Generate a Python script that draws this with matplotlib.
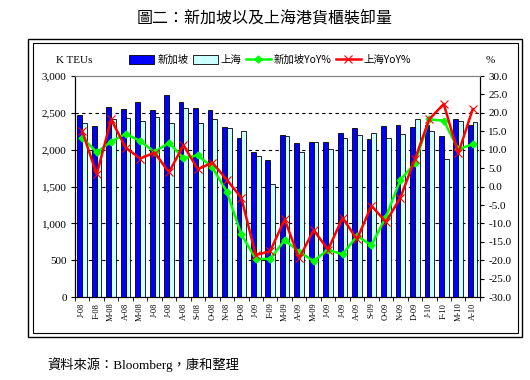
import numpy as np
import matplotlib
matplotlib.use('Agg')
import matplotlib.pyplot as plt
from matplotlib.patches import Rectangle
from matplotlib.lines import Line2D

plt.rcParams['font.family'] = ['Liberation Serif', 'Noto Sans CJK TC']

months = ['J-08', 'F-08', 'M-08', 'A-08', 'M-08', 'J-08', 'J-08', 'A-08', 'S-08', 'O-08', 'N-08', 'D-08',
          'J-09', 'F-09', 'M-09', 'A-09', 'M-09', 'J-09', 'J-09', 'A-09', 'S-09', 'O-09', 'N-09', 'D-09',
          'J-10', 'F-10', 'M-10', 'A-10']

# K TEUs
singapore = [2470, 2320, 2580, 2550, 2645, 2535, 2740, 2650, 2560, 2535, 2305, 2165,
             1975, 1855, 2195, 2085, 2100, 2100, 2225, 2290, 2150, 2315, 2335, 2305,
             2330, 2185, 2420, 2330]
shanghai = [2360, 2005, 2410, 2425, 2385, 2440, 2360, 2560, 2360, 2410, 2290, 2250,
            1910, 1530, 2180, 1970, 2100, 2015, 2155, 2195, 2230, 2165, 2215, 2410,
            2250, 1880, 2390, 2370]

# YoY %
singapore_yoy = [13.3, 9.3, 12.2, 14.3, 12.4, 9.4, 11.9, 7.7, 8.5, 5.2, -1.4, -13.0,
                 -19.6, -19.6, -14.5, -17.7, -20.2, -17.1, -18.4, -13.4, -15.9, -8.2, 1.8, 6.3,
                 18.2, 17.9, 10.1, 11.5]
shanghai_yoy = [15.1, 3.3, 18.2, 10.6, 7.6, 9.2, 3.9, 11.2, 4.7, 6.5, 1.8, -3.0,
                -18.6, -17.5, -8.9, -19.5, -11.8, -17.1, -8.5, -14.3, -5.2, -9.6, -3.0, 7.4,
                18.3, 22.4, 9.0, 21.0]

fig = plt.figure(figsize=(5.3, 3.8), dpi=100)
ax = fig.add_axes([0.1415, 0.218, 0.764, 0.582])
ax2 = ax.twinx()

x = np.arange(len(months))
w = 0.33
ax.bar(x - w / 2, singapore, w, color='#0000ff', edgecolor='black', linewidth=0.6, label='新加坡', zorder=2)
ax.bar(x + w / 2, shanghai, w, color='#ccffff', edgecolor='black', linewidth=0.6, label='上海', zorder=2)

ax2.plot(x, singapore_yoy, color='#00ff00', lw=1.8, marker='D', ms=3.5, label='新加坡YoY%')
ax2.plot(x, shanghai_yoy, color='#ff0000', lw=1.8, marker='x', ms=6, mew=0.8, label='上海YoY%')

ax.set_xlim(-0.5, len(months) - 0.5)
ax.set_ylim(0, 3000)
ax.set_yticks(np.arange(0, 3001, 500))
ax.set_yticklabels(['{:,}'.format(v) for v in range(0, 3001, 500)])
ax2.set_ylim(-30, 30)
ax2.set_yticks(np.arange(-30, 31, 5))
ax2.set_yticklabels(['{:.1f}'.format(v) for v in range(-30, 31, 5)])

for v in range(500, 3000, 500):
    ax.axhline(v, color='black', lw=0.8, ls=(0, (3, 3)), zorder=1)

ax.set_xticks(x)
ax.set_xticklabels(months, rotation=90, fontsize=6)
ax.set_xticks(np.arange(-0.5, len(months), 1), minor=True)
ax.tick_params(axis='x', which='major', length=0, pad=4)
ax.tick_params(axis='x', which='minor', length=3, direction='out')
ax.tick_params(axis='y', labelsize=8, length=3, direction='out', pad=3)
ax2.tick_params(axis='y', labelsize=8, length=3, direction='out', pad=3)

for a in (ax, ax2):
    a.spines['top'].set_color('#808080')
    a.spines['top'].set_linewidth(0.8)

fig.text(0.5, 0.952, '圖二：新加坡以及上海港貨櫃裝卸量', ha='center', va='center', fontsize=11.5,
         family=['Noto Sans CJK TC'])
fig.text(0.105, 0.842, 'K TEUs', fontsize=8, va='center')
fig.text(0.925, 0.842, '%', fontsize=8, va='center', ha='center')
fig.text(0.09, 0.04, '資料來源：Bloomberg，康和整理', fontsize=9.5, va='center',
         family=['Liberation Serif', 'Noto Sans CJK TC'])

handles = [Rectangle((0, 0), 1, 1, fc='#0000ff', ec='black', lw=0.6),
           Rectangle((0, 0), 1, 1, fc='#ccffff', ec='black', lw=0.6),
           Line2D([], [], color='#00ff00', lw=1.8, marker='D', ms=3.5),
           Line2D([], [], color='#ff0000', lw=1.8, marker='x', ms=6, mew=0.8)]
labels = ['新加坡', '上海', '新加坡YoY%', '上海YoY%']
fig.legend(handles, labels, loc='center', bbox_to_anchor=(0.51, 0.842), ncol=4, frameon=False,
           handlelength=2.4, handleheight=0.9, columnspacing=0.4, handletextpad=0.3,
           prop={'family': ['Noto Sans CJK TC'], 'size': 7.5})

# outer chart frame (double line)
fig.patches.append(Rectangle((0.053, 0.113), 0.932, 0.784, transform=fig.transFigure,
                             fill=False, ec='black', lw=1.0))
fig.patches.append(Rectangle((0.062, 0.124), 0.915, 0.763, transform=fig.transFigure,
                             fill=False, ec='black', lw=0.8))

fig.savefig('out.png', dpi=100)
